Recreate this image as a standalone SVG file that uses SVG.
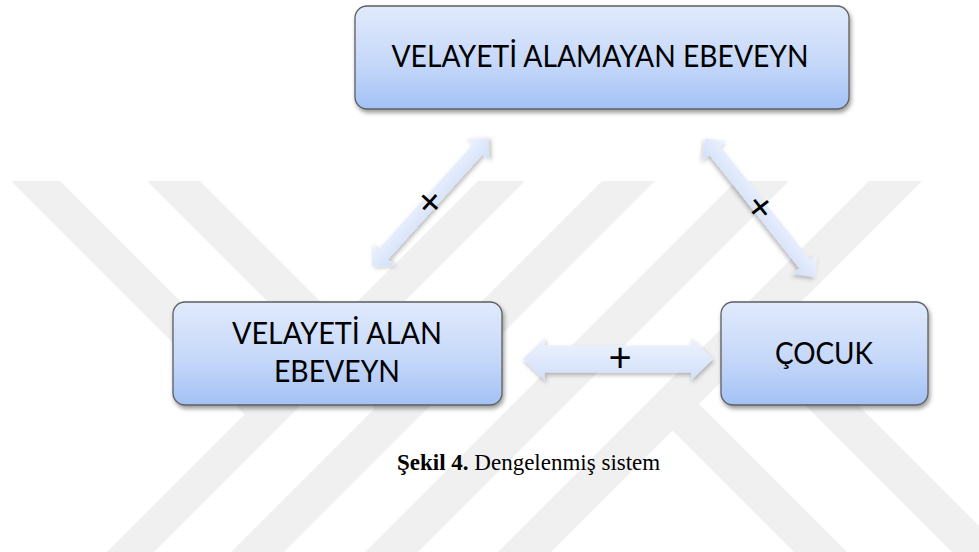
<svg xmlns="http://www.w3.org/2000/svg" width="979" height="552" viewBox="0 0 979 552">
  <defs>
    <style>
      .wm { fill: #f0f0f0; }
      .box { fill: url(#boxGrad); stroke: #5e5e5e; stroke-width: 1.3; filter: url(#shadow); }
      .arrow { fill: url(#arrowGrad); filter: url(#ashadow); }
      .lbl { font-family: Lato, "Open Sans", "Liberation Sans", sans-serif; font-size: 30px; fill: #000; text-anchor: middle; }
      .sign { font-family: Lato, "Open Sans", "Liberation Sans", sans-serif; font-size: 40px; fill: #000; text-anchor: middle; }
      .cap { font-family: "Liberation Serif", serif; font-size: 23px; fill: #000; }
    </style>
    <linearGradient id="boxGrad" x1="0" y1="0" x2="0" y2="1">
      <stop offset="0" stop-color="#e0eafc"/>
      <stop offset="0.55" stop-color="#c6d8f9"/>
      <stop offset="1" stop-color="#a3c1f5"/>
    </linearGradient>
    <linearGradient id="arrowGrad" x1="0" y1="0" x2="0" y2="1">
      <stop offset="0" stop-color="#eef3fe"/>
      <stop offset="1" stop-color="#d2dff9"/>
    </linearGradient>
    <filter id="shadow" x="-10%" y="-10%" width="125%" height="135%">
      <feDropShadow dx="1.5" dy="3" stdDeviation="2.2" flood-color="#000" flood-opacity="0.4"/>
    </filter>
    <filter id="ashadow" x="-20%" y="-30%" width="140%" height="170%">
      <feDropShadow dx="1" dy="2.5" stdDeviation="2" flood-color="#000" flood-opacity="0.28"/>
    </filter>
  </defs>

  <rect x="0" y="0" width="979" height="552" fill="#ffffff"/>

  <g id="watermark">
    <polygon class="wm" points="11,181 60,181 293,414 244,414"/>
    <polygon class="wm" points="147,181 200,181 427.5,408.5 374.5,408.5"/>
    <polygon class="wm" points="478,181 525,181 154,552 107,552"/>
    <polygon class="wm" points="602,181 655,181 284,552 231,552"/>
    <polygon class="wm" points="736,181 789,181 418,552 365,552"/>
    <polygon class="wm" points="869,181 922,181 551,552 498,552"/>
    <polygon class="wm" points="699,404 847,552 794,552 670,428"/>
    <polygon class="wm" points="760,360 813,360 1005,552 952,552"/>
  </g>

  <g id="connectors">
    <g id="edge-left" transform="translate(430,202.5) rotate(-48)">
      <polygon class="arrow" points="-86.75,0 -70.75,-15.5 -70.75,-7 70.75,-7 70.75,-15.5 86.75,0 70.75,15.5 70.75,7 -70.75,7 -70.75,15.5"/>
      <text class="sign" x="0" y="13">+</text>
    </g>
    <g id="edge-right" transform="translate(760,207.5) rotate(51.6)">
      <polygon class="arrow" points="-88.5,0 -72.5,-15.5 -72.5,-7 72.5,-7 72.5,-15.5 88.5,0 72.5,15.5 72.5,7 -72.5,7 -72.5,15.5"/>
      <text class="sign" x="0" y="13">+</text>
    </g>
    <g id="edge-bottom" transform="translate(618,359)">
      <polygon class="arrow" points="-95,0 -73,-21.5 -73,-13.5 73,-13.5 73,-21.5 95,0 73,21.5 73,13.5 -73,13.5 -73,21.5"/>
      <text class="sign" x="2" y="13">+</text>
    </g>
  </g>

  <g id="node-velayeti-alamayan">
    <rect class="box" x="355" y="6" width="494" height="103" rx="12" ry="12"/>
    <text class="lbl" x="600" y="67" textLength="417" lengthAdjust="spacingAndGlyphs">VELAYETİ ALAMAYAN EBEVEYN</text>
  </g>

  <g id="node-velayeti-alan">
    <rect class="box" x="173" y="302" width="329" height="103" rx="12" ry="12"/>
    <text class="lbl" x="337" y="344" textLength="210" lengthAdjust="spacingAndGlyphs">VELAYETİ ALAN</text>
    <text class="lbl" x="337" y="382" textLength="126" lengthAdjust="spacingAndGlyphs">EBEVEYN</text>
  </g>

  <g id="node-cocuk">
    <rect class="box" x="721" y="302" width="207" height="103" rx="12" ry="12"/>
    <text class="lbl" x="824" y="364" textLength="98" lengthAdjust="spacingAndGlyphs">ÇOCUK</text>
  </g>

  <g id="caption">
    <text class="cap" x="397" y="470"><tspan font-weight="bold">Şekil 4.</tspan> Dengelenmiş sistem</text>
  </g>
</svg>
